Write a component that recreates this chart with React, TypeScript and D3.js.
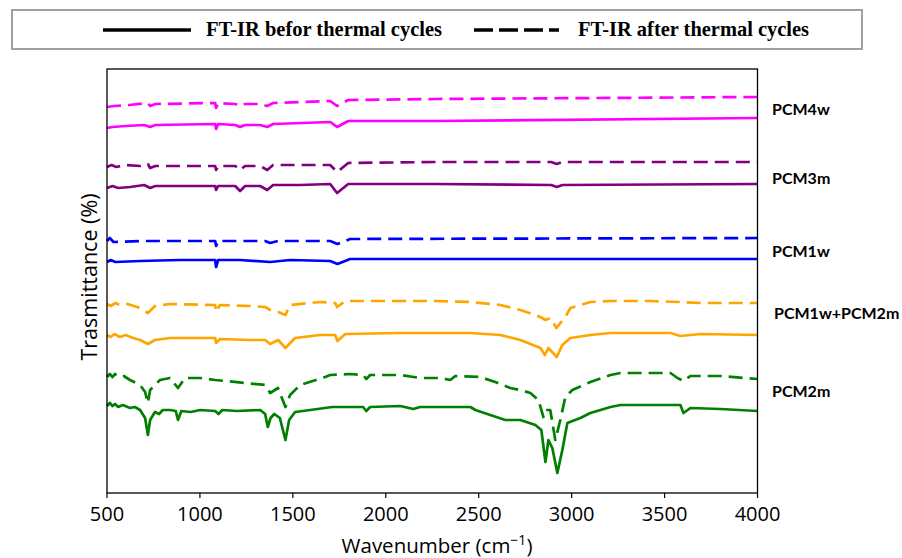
import React from "react";
import * as d3 from "d3";

// wavenumber (cm-1), offset transmittance (a.u.)
const pcm2mBefore: [number, number][] = [
  [500, 21.75], [515, 22.5], [530, 21.75], [543, 22.25], [560, 21.5], [585, 22], [624, 21.25], [650, 21.5],
  [678, 20.75], [705, 18.75], [720, 14.5], [732, 18.25], [758, 20.25], [780, 19.75], [800, 20.75],
  [839, 20.75], [870, 20.5], [882, 18.25], [900, 20.5], [950, 20.25], [1001, 20.75], [1082, 20.5], [1100, 19.75], [1120, 20.75],
  [1200, 20.5], [1324, 20.75], [1351, 19.75], [1365, 16.5], [1380, 18.75], [1400, 19.75], [1430, 18.75], [1460, 13.25],
  [1480, 18.25], [1512, 20.25], [1593, 20.75], [1712, 21.5], [1878, 21.5], [1895, 20.5], [1916, 21.5],
  [2078, 21.75], [2148, 21], [2185, 21.5], [2455, 21.5], [2482, 20.75], [2562, 19.5], [2643, 18.25],
  [2697, 18.25], [2724, 18.25], [2805, 17], [2837, 15.75], [2859, 7.75], [2875, 13.25], [2896, 11.25],
  [2923, 5], [2950, 10.75], [2977, 17.5], [3047, 18.75], [3101, 20], [3155, 20.75], [3209, 21.5], [3263, 22],
  [3585, 22], [3602, 20], [3639, 21.25], [3801, 21], [4000, 20.5],
];
const pcm2mAfter: [number, number][] = [
  [500, 29], [515, 29.75], [530, 29], [543, 29.75], [565, 29], [590, 29.25], [624, 28.25], [678, 27], [705, 25.25], [720, 22.5], [732, 25.75], [785, 28.25],
  [839, 28.75], [882, 26.25], [920, 28.75], [1001, 28.75], [1082, 28.25], [1351, 27], [1378, 25], [1420, 26.25],
  [1460, 21.5], [1485, 24.5], [1539, 27], [1674, 29], [1701, 29.5], [1808, 29.75], [1878, 29.5], [1895, 28.5],
  [1916, 29.5], [2078, 29.5], [2185, 28.75], [2293, 28.75], [2347, 28.25], [2374, 29.25], [2508, 29],
  [2589, 27.75], [2670, 26.25], [2724, 25.75], [2778, 25], [2821, 23.25], [2848, 19], [2859, 20.75],
  [2885, 20.75], [2912, 13.25], [2939, 18.25], [2966, 24], [3004, 25.75], [3101, 27.75], [3209, 29.5],
  [3263, 30], [3532, 30], [3569, 28.75], [3602, 28], [3639, 29.25], [3801, 29.25], [4000, 28.5],
];
const mixBefore: [number, number][] = [
  [500, 39.5], [520, 39], [540, 39.75], [570, 39], [600, 39.5], [640, 38.75], [678, 38.25], [720, 37.25], [758, 38.25], [839, 38.75], [1082, 38.75], [1087, 37.5],
  [1108, 38.5], [1270, 38.25], [1351, 38.25], [1378, 37.25], [1421, 38.25], [1460, 36.25], [1512, 38.75],
  [1647, 39.5], [1728, 39.5], [1740, 38], [1782, 39.75], [2078, 40], [2455, 40], [2616, 39.5], [2724, 38.25],
  [2778, 37.25], [2832, 36.25], [2856, 34.5], [2875, 36.25], [2920, 34], [2950, 37], [2993, 38.75],
  [3101, 39.5], [3209, 40], [3532, 40], [3585, 39.25], [3693, 39.75], [4000, 39.5],
];
const mixAfter: [number, number][] = [
  [500, 47.25], [520, 46.75], [545, 47.5], [570, 47], [610, 47.25], [678, 46.25], [720, 45], [758, 46.75], [839, 47.25], [1082, 47], [1087, 45.25],
  [1108, 47], [1270, 46.75], [1351, 46.5], [1378, 45.75], [1421, 45.25], [1460, 44.5], [1485, 47],
  [1647, 47.75], [1728, 47.5], [1738, 46.5], [1782, 48], [2078, 48], [2266, 48], [2455, 47.75], [2616, 47],
  [2724, 45.75], [2832, 44], [2859, 43.25], [2885, 43.75], [2918, 41.25], [2966, 44], [2993, 46.25],
  [3101, 47.75], [3209, 48], [3424, 48], [3585, 47.75], [3693, 47.5], [4000, 47.5],
];
const pcm1wBefore: [number, number][] = [
  [500, 57.75], [520, 58.25], [545, 57.75], [678, 58], [893, 58.25], [1082, 58.25], [1087, 56.5], [1098, 58.25], [1216, 58.25],
  [1378, 57.75], [1485, 58.25], [1701, 58], [1740, 57.25], [1808, 58.5], [2616, 58.5], [4000, 58.5],
];
const pcm1wAfter: [number, number][] = [
  [500, 63], [515, 63.75], [535, 62.75], [678, 63], [1082, 63], [1087, 61.75], [1098, 63], [1351, 63], [1378, 62.5], [1420, 63],
  [1701, 63], [1740, 62.25], [1808, 63.5], [4000, 63.75],
];
const pcm3mBefore: [number, number][] = [
  [500, 76.25], [530, 76.75], [560, 76.25], [624, 76.5], [700, 77], [732, 76.25], [760, 76.75], [1082, 76.75], [1087, 75.75], [1098, 76.75], [1190, 76.75],
  [1216, 75.5], [1243, 76.75], [1324, 76.75], [1362, 75.75], [1394, 77], [1539, 77], [1701, 77.25],
  [1738, 75], [1798, 77.25], [2266, 77.25], [2890, 77], [2920, 76.5], [2950, 77], [4000, 77.25],
];
const pcm3mAfter: [number, number][] = [
  [500, 81.5], [525, 82], [550, 81.5], [600, 82], [680, 81.75], [720, 82.25], [732, 81.25], [760, 81.75], [1082, 81.75], [1087, 80.75], [1098, 81.75], [1190, 81.75], [1216, 80.75],
  [1243, 81.75], [1324, 81.75], [1362, 80.75], [1394, 82], [1539, 82], [1701, 82], [1738, 80.25],
  [1798, 82.5], [2266, 82.75], [2890, 82.75], [2920, 82.25], [2950, 82.75], [4000, 82.75],
];
const pcm4wBefore: [number, number][] = [
  [500, 91.25], [530, 91.5], [600, 91.75], [700, 92], [732, 91.5], [760, 92], [1082, 92.25], [1087, 91], [1098, 92.25], [1190, 92], [1216, 91.5],
  [1243, 92], [1324, 92], [1362, 91.5], [1394, 92.25], [1701, 92.75], [1738, 91.5], [1798, 93],
  [2266, 93], [4000, 93.75],
];
const pcm4wAfter: [number, number][] = [
  [500, 96.5], [540, 96.75], [620, 97], [720, 97.5], [732, 96.75], [760, 97.25], [1082, 97.5], [1087, 96.25], [1098, 97.5], [1190, 97.25], [1216, 96.75],
  [1243, 97.25], [1324, 97.25], [1362, 96.75], [1394, 97.5], [1701, 98], [1738, 96.75], [1798, 98.25],
  [2266, 98.5], [4000, 99],
];

const sampleNames = ["PCM4w", "PCM3m", "PCM1w", "PCM1w+PCM2m", "PCM2m"];
const sampleColors = ["#ff00ff", "#800080", "#0000ff", "#ffa500", "#008000"];
const labelLevels = [96.25, 79, 60.75, 45.25, 25.75];
const beforeSeries = [pcm4wBefore, pcm3mBefore, pcm1wBefore, mixBefore, pcm2mBefore];
const afterSeries = [pcm4wAfter, pcm3mAfter, pcm1wAfter, mixAfter, pcm2mAfter];
const xTicks = [500, 1000, 1500, 2000, 2500, 3000, 3500, 4000];
const legendLabels = ["FT-IR befor thermal cycles", "FT-IR after thermal cycles"];

const W = 902;
const H = 558;
const M = { left: 107, right: 757.5, top: 69, bottom: 493 };

export default function App() {
  const x = d3.scaleLinear().domain([500, 4000]).range([M.left, M.right]);
  const y = d3.scaleLinear().domain([0, 106]).range([M.bottom, M.top]);
  const line = d3
    .line<[number, number]>()
    .x((d) => x(d[0]))
    .y((d) => y(d[1]));
  const sans = "'Open Sans', sans-serif";

  return (
    <svg
      width={W}
      height={H}
      style={{ position: "absolute", left: 0, top: 0, background: "#fff" }}
    >
      <rect x={0} y={0} width={W} height={H} fill="#fff" />
      {/* legend */}
      <rect x={12} y={10} width={850} height={39} fill="#fff" stroke="#a0a0a0" strokeWidth={2} />
      <line x1={103} x2={191} y1={30} y2={30} stroke="#000" strokeWidth={3.5} />
      <text
        x={206}
        y={36}
        fontFamily="'Liberation Serif', serif"
        fontWeight="bold"
        fontSize={21}
        textLength={236}
        lengthAdjust="spacingAndGlyphs"
      >
        {legendLabels[0]}
      </text>
      <line x1={474} x2={559} y1={30} y2={30} stroke="#000" strokeWidth={3.5} strokeDasharray="19,6" />
      <text
        x={578}
        y={36}
        fontFamily="'Liberation Serif', serif"
        fontWeight="bold"
        fontSize={21}
        textLength={231}
        lengthAdjust="spacingAndGlyphs"
      >
        {legendLabels[1]}
      </text>

      {/* spectra */}
      <g fill="none" strokeWidth={2.7} strokeLinejoin="round">
        {beforeSeries.map((s, i) => (
          <path key={"b" + i} d={line(s) || ""} stroke={sampleColors[i]} />
        ))}
        {afterSeries.map((s, i) => (
          <path key={"a" + i} d={line(s) || ""} stroke={sampleColors[i]} strokeDasharray="14,7" />
        ))}
      </g>

      {/* frame */}
      <rect
        x={M.left}
        y={M.top}
        width={M.right - M.left}
        height={M.bottom - M.top}
        fill="none"
        stroke="#000"
        strokeWidth={1.3}
      />

      {/* x axis */}
      {xTicks.map((t) => (
        <g key={t}>
          <line x1={x(t)} x2={x(t)} y1={M.bottom} y2={M.bottom + 5} stroke="#000" strokeWidth={1.2} />
          <text x={x(t)} y={521} textAnchor="middle" fontFamily={sans} fontSize={20}>
            {t}
          </text>
        </g>
      ))}
      <text x={437} y={553} textAnchor="middle" fontFamily={sans} fontSize={20.5}>
        Wavenumber (cm
        <tspan dy={-8} fontSize={14}>−1</tspan>
        <tspan dy={8}>)</tspan>
      </text>
      <text
        transform={`translate(97, 277) rotate(-90)`}
        textAnchor="middle"
        fontFamily={sans}
        fontSize={21.5}
      >
        Trasmittance (%)
      </text>

      {/* sample labels */}
      {sampleNames.map((n, i) => (
        <text
          key={n}
          x={i === 3 ? 774 : 772}
          y={y(labelLevels[i])}
          dominantBaseline="central"
          fontFamily="Lato, sans-serif"
          fontWeight="bold"
          fontSize={16}
        >
          {n}
        </text>
      ))}
    </svg>
  );
}
